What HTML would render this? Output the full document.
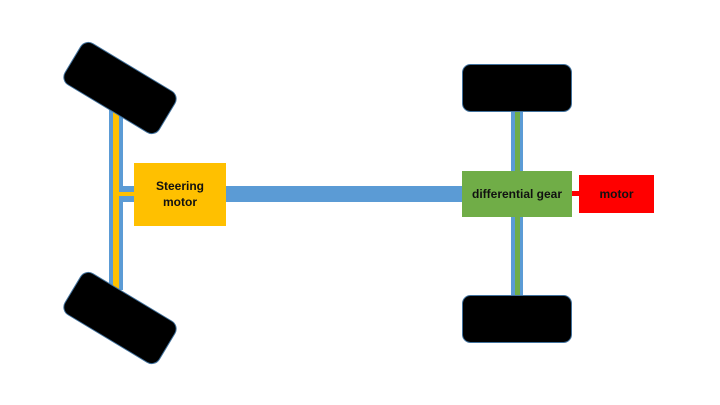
<!DOCTYPE html>
<html><head><meta charset="utf-8"><style>
html,body{margin:0;padding:0;background:#fff;width:720px;height:405px;overflow:hidden}
svg{display:block}
text{font-family:"Liberation Sans",sans-serif;font-weight:bold;font-size:12px;fill:#111}
</style></head><body>
<svg width="720" height="405" viewBox="0 0 720 405">
<!-- left steering linkage -->
<rect x="109" y="110" width="14" height="180" fill="#5b9bd5"/>
<rect x="113" y="110" width="6" height="180" fill="#ffc000"/>
<rect x="119" y="186" width="16" height="16" fill="#5b9bd5"/>
<rect x="113" y="192" width="22" height="4" fill="#ffc000"/>
<!-- main shaft -->
<rect x="226" y="186" width="237" height="16" fill="#5b9bd5"/>
<!-- left wheels -->
<rect x="65" y="64" width="110" height="48" rx="9" fill="#000" stroke="#41719c" stroke-width="1" transform="rotate(31 120 88)"/>
<rect x="65" y="294" width="110" height="48" rx="9" fill="#000" stroke="#41719c" stroke-width="1" transform="rotate(31 120 318)"/>
<!-- steering motor -->
<rect x="134" y="163" width="92" height="63" fill="#ffc000"/>
<text x="180" y="190" text-anchor="middle">Steering</text>
<text x="180" y="206" text-anchor="middle">motor</text>
<!-- rear axle -->
<rect x="511" y="110" width="12" height="187" fill="#5b9bd5"/>
<rect x="515" y="110" width="5" height="187" fill="#70ad47"/>
<rect x="462.5" y="64.5" width="109" height="47" rx="8" fill="#000" stroke="#41719c" stroke-width="1"/>
<rect x="462.5" y="295.5" width="109" height="47" rx="8" fill="#000" stroke="#41719c" stroke-width="1"/>
<!-- diff gear -->
<rect x="462" y="171" width="110" height="46" fill="#70ad47"/>
<text x="517" y="198" text-anchor="middle">differential gear</text>
<rect x="572" y="191" width="8" height="5" fill="#ff0000"/>
<rect x="579" y="175" width="75" height="38" fill="#ff0000"/>
<text x="616.5" y="198" text-anchor="middle">motor</text>
</svg>
</body></html>
